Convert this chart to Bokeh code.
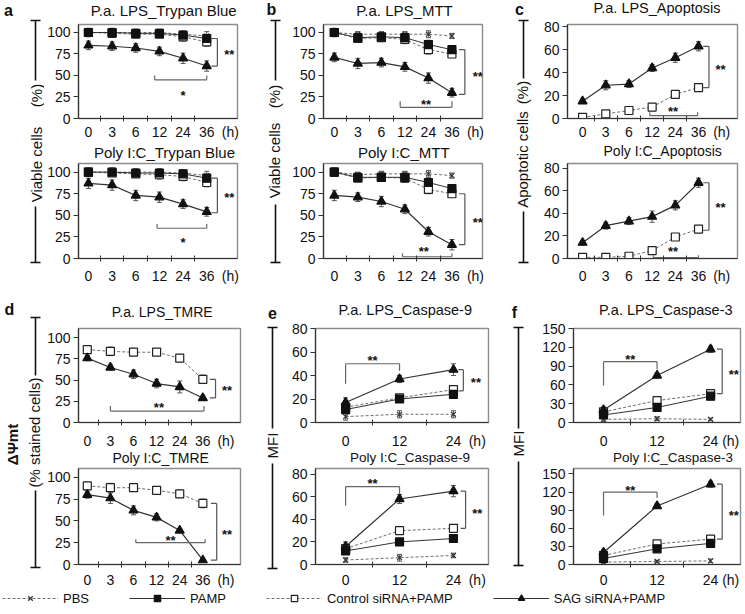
import math
from bokeh.plotting import figure
from bokeh.models import (ColumnDataSource, FixedTicker, Legend, LegendItem,
                          Range1d, TeeHead, Whisker)
from bokeh.layouts import row, column
from bokeh.core.properties import value
from bokeh.embed import file_html
from bokeh.resources import INLINE

FONT = "Liberation Sans"
INK = "#111111"

# ---------------- data ----------------
hours_long = ["0", "3", "6", "12", "24", "36"]
hours_short = ["0", "12", "24"]
hour_unit = "(h)"
names = ["PBS", "PAMP", "Control siRNA+PAMP", "SAG siRNA+PAMP"]

# a  Trypan Blue (viable cells %)
a1_pbs = [100, 100, 100, 100, 98, 96];  a1_pbs_err = [5, 5, 4, 4, 4, 5]
a1_pamp = [100, 100, 99, 99, 97, 93];   a1_pamp_err = [3, 3, 3, 3, 4, 4]
a1_ctrl = [100, 99, 98, 98, 95, 89];    a1_ctrl_err = [4, 4, 4, 4, 5, 5]
a1_sag = [85, 84, 82, 78, 70, 61];      a1_sag_err = [5, 5, 5, 5, 6, 6]
a2_pbs = [100, 100, 100, 100, 99, 96];  a2_pbs_err = [5, 5, 4, 4, 4, 5]
a2_pamp = [100, 100, 99, 99, 98, 93];   a2_pamp_err = [3, 3, 3, 3, 4, 4]
a2_ctrl = [100, 99, 98, 97, 95, 88];    a2_ctrl_err = [4, 4, 4, 5, 5, 5]
a2_sag = [87, 85, 73, 71, 63, 54];      a2_sag_err = [6, 6, 6, 6, 5, 5]
# b  MTT
b1_pbs = [100, 98, 98, 98, 98, 96];     b1_pbs_err = [3, 3, 3, 3, 4, 3]
b1_pamp = [100, 94, 95, 94, 86, 80];    b1_pamp_err = [5, 4, 4, 4, 5, 4]
b1_ctrl = [100, 93, 94, 92, 80, 75];    b1_ctrl_err = [4, 4, 4, 5, 5, 4]
b1_sag = [71, 64, 65, 60, 47, 30];      b1_sag_err = [5, 6, 5, 5, 6, 5]
b2_pbs = [100, 97, 98, 98, 98, 96];     b2_pbs_err = [3, 3, 3, 3, 4, 3]
b2_pamp = [100, 94, 94, 94, 88, 81];    b2_pamp_err = [5, 4, 4, 4, 5, 4]
b2_ctrl = [100, 93, 94, 93, 80, 75];    b2_ctrl_err = [4, 4, 4, 5, 5, 4]
b2_sag = [73, 71, 66, 57, 31, 16];      b2_sag_err = [6, 5, 6, 5, 5, 6]
# c  Apoptosis
c1_ctrl = [1, 4, 7, 10, 21, 27];        c1_ctrl_err = [1, 1, 1, 3, 2, 3]
c1_sag = [15, 29, 30, 44, 53, 63];      c1_sag_err = [2, 4, 3, 3, 4, 4]
c2_ctrl = [1, 1, 2, 7, 19, 26];         c2_ctrl_err = [1, 1, 1, 2, 2, 2]
c2_sag = [14, 29, 33, 37, 47, 67];      c2_sag_err = [2, 3, 3, 5, 4, 4]
# d  TMRE
d1_ctrl = [86, 84, 83, 83, 76, 51];     d1_ctrl_err = [4, 5, 4, 4, 4, 5]
d1_sag = [76, 65, 57, 46, 42, 29];      d1_sag_err = [3, 3, 5, 5, 7, 3]
d2_ctrl = [90, 88, 88, 85, 81, 70];     d2_ctrl_err = [4, 5, 3, 4, 4, 5]
d2_sag = [80, 76, 62, 54, 39, 5];       d2_sag_err = [4, 6, 5, 4, 2, 1]
# e  Caspase-9 (MFI)
e1_pbs = [5, 7, 7];     e1_pbs_err = [3, 3, 3]
e1_pamp = [11, 20, 24]; e1_pamp_err = [3, 2, 3]
e1_ctrl = [13, 21, 28]; e1_ctrl_err = [3, 2, 3]
e1_sag = [17, 37, 45];  e1_sag_err = [4, 3, 5]
e2_pbs = [4, 6, 8];     e2_pbs_err = [2, 3, 2]
e2_pamp = [12, 20, 23]; e2_pamp_err = [3, 2, 2]
e2_ctrl = [14, 30, 32]; e2_ctrl_err = [3, 3, 3]
e2_sag = [16, 58, 65];  e2_sag_err = [4, 4, 5]
# f  Caspase-3 (MFI)
f1_pbs = [5, 6, 5];      f1_pbs_err = [3, 3, 2]
f1_pamp = [12, 24, 42];  f1_pamp_err = [5, 4, 4]
f1_ctrl = [17, 35, 46];  f1_ctrl_err = [5, 4, 4]
f1_sag = [20, 75, 117];  f1_sag_err = [5, 4, 5]
f2_pbs = [4, 5, 6];      f2_pbs_err = [3, 2, 3]
f2_pamp = [10, 26, 35];  f2_pamp_err = [5, 4, 4]
f2_ctrl = [15, 34, 42];  f2_ctrl_err = [5, 4, 4]
f2_sag = [20, 97, 133];  f2_sag_err = [5, 4, 5]

yt_pct = [0, 25, 50, 75, 100]
yt_80 = [0, 20, 40, 60, 80]
yt_150 = [0, 30, 60, 90, 120, 150]

# ---------------- styles ----------------
STYLE = {
    "PBS": dict(marker="x", size=7, mline="#333333", mfill=None, line="#6e6e6e", dash="3 2", lw=1.0),
    "PAMP": dict(marker="square", size=8, mline="#111111", mfill="#111111", line="#333333", dash="solid", lw=1.0),
    "Control siRNA+PAMP": dict(marker="square", size=8, mline="#222222", mfill="white", line="#6e6e6e", dash="3 2", lw=1.0),
    "SAG siRNA+PAMP": dict(marker="triangle", size=9, mline="#111111", mfill="#111111", line="#333333", dash="solid", lw=1.2),
}


def blank(w, h):
    f = figure(width=w, height=h, x_range=Range1d(0, w), y_range=Range1d(h, 0),
               x_axis_type=None, y_axis_type=None, output_backend="svg",
               toolbar_location=None, min_border=0)
    f.outline_line_color = None
    return f


def make_panel(width, th, tcy, height, L, R, T, B, xr, ytop, yticks, xkind, title,
               title_fs, title_dx, x_standoff, series, unit_pos=None):
    frame_w = width - L - R
    frame_h = height - T - B
    ppu = frame_h / ytop
    tf = blank(width, th)
    tf.text(x=[L + frame_w / 2.0 + title_dx], y=[tcy], text=[title], text_font=value(FONT),
            text_font_size=f"{title_fs}px", text_align="center", text_baseline="middle",
            text_color=INK)
    p = figure(width=width, height=height, x_range=Range1d(*xr), y_range=Range1d(0, ytop),
               output_backend="svg", toolbar_location=None,
               min_border_left=L, min_border_right=R, min_border_top=T, min_border_bottom=B)
    p.grid.visible = False
    p.outline_line_color = "#8c8c8c"
    p.outline_line_width = 1.4
    if xkind == "long":
        xs = list(range(len(hours_long)))
        labels = hours_long + [hour_unit]
        ticks = xs + [len(hours_long)]
    else:
        xs = [int(h) for h in hours_short]
        labels = hours_short + [hour_unit]
        ticks = xs + [unit_pos]
    minor = [(xs[i] + xs[i + 1]) / 2 for i in range(len(xs) - 1)]
    xa = p.xaxis[0]
    ya = p.yaxis[0]
    xa.ticker = FixedTicker(ticks=ticks, minor_ticks=minor)
    xa.major_label_overrides = {t: l for t, l in zip(ticks, labels)}
    xa.major_tick_in = 0
    xa.major_tick_out = 0
    xa.minor_tick_in = 3
    xa.minor_tick_out = 3
    xa.minor_tick_line_color = "#333333"
    xa.major_label_standoff = x_standoff
    ya.ticker = FixedTicker(ticks=yticks)
    ya.major_tick_in = 0
    ya.major_tick_out = 5
    ya.minor_tick_in = 0
    ya.minor_tick_out = 0
    ya.major_label_standoff = 3
    for ax in (xa, ya):
        ax.axis_line_color = "#333333"
        ax.axis_line_width = 1.2
        ax.major_tick_line_color = "#333333"
        ax.major_label_text_font = FONT
        ax.major_label_text_font_size = "14px"
        ax.major_label_text_color = INK
    for name, ys, es in series:
        st = STYLE[name]
        p.line(xs, ys, line_color=st["line"], line_width=st["lw"], line_dash=st["dash"])
    for name, ys, es in series:
        src = ColumnDataSource(dict(x=xs, lo=[y - e for y, e in zip(ys, es)],
                                    hi=[y + e for y, e in zip(ys, es)]))
        p.add_layout(Whisker(source=src, base="x", lower="lo", upper="hi", dimension="height",
                             line_color="#555555", line_width=1,
                             upper_head=TeeHead(size=5, line_color="#555555", line_width=1),
                             lower_head=TeeHead(size=5, line_color="#555555", line_width=1)))
    for name, ys, es in series:
        st = STYLE[name]
        p.scatter(xs, ys, marker=st["marker"], size=st["size"], line_color=st["mline"],
                  fill_color=st["mfill"], line_width=1.2)
    return tf, p, ppu


def star(p, ppu, x, y, txt):
    p.text(x=[x], y=[y - 2.5 / ppu], text=[txt], text_font=value(FONT), text_font_size="13px",
           text_font_style="bold", text_align="center", text_baseline="middle", text_color=INK)


def right_bracket(p, ppu, xb, xt, y1, y2, sx, sy):
    p.segment(x0=[xt, xb, xt], y0=[y1, y1, y2], x1=[xb, xb, xb], y1=[y1, y2, y2],
              line_color="#555555", line_width=1.2)
    star(p, ppu, sx, sy, "**")


def low_bracket(p, ppu, x0, x1, y, up, sx, sy, txt):
    p.segment(x0=[x0, x0, x1], y0=[y, y, y], x1=[x1, x0, x1], y1=[y, y + up, y + up],
              line_color="#666666", line_width=1.2)
    star(p, ppu, sx, sy, txt)


def top_bracket(p, ppu, x0, x1, y, yl, yr, sx, sy):
    p.segment(x0=[x0, x0, x1], y0=[y, y, y], x1=[x1, x0, x1], y1=[y, yl, yr],
              line_color="#666666", line_width=1.2)
    star(p, ppu, sx, sy, "**")


N = names

# ----- a -----
ta1, a1, u = make_panel(209, 20, 9.5, 124, 33, 16, 4, 26, (-0.42, 6.30), 109.3, yt_pct, "long",
                        "P.a. LPS_Trypan Blue", 15, -1, 2,
                        [(N[0], a1_pbs, a1_pbs_err), (N[2], a1_ctrl, a1_ctrl_err),
                         (N[1], a1_pamp, a1_pamp_err), (N[3], a1_sag, a1_sag_err)])
right_bracket(a1, u, 5.45, 5.2, 93, 61, 5.95, 77)
low_bracket(a1, u, 2.8, 5.0, 45, 5, 4.0, 30, "*")
ta2, a2, u = make_panel(209, 18, 8.2, 128, 33, 16, 1, 32, (-0.42, 6.30), 110, yt_pct, "long",
                        "Poly I:C_Trypan Blue", 15, 0, 6,
                        [(N[0], a2_pbs, a2_pbs_err), (N[2], a2_ctrl, a2_ctrl_err),
                         (N[1], a2_pamp, a2_pamp_err), (N[3], a2_sag, a2_sag_err)])
right_bracket(a2, u, 5.45, 5.2, 93, 53, 5.95, 73)
low_bracket(a2, u, 2.9, 5.0, 35, 5, 4.0, 22, "*")
# ----- b -----
tb1, b1, u = make_panel(211, 20, 9.5, 124, 32, 18, 4, 26, (-0.46, 6.30), 109.3, yt_pct, "long",
                        "P.a. LPS_MTT", 15, -5, 2,
                        [(N[0], b1_pbs, b1_pbs_err), (N[2], b1_ctrl, b1_ctrl_err),
                         (N[1], b1_pamp, b1_pamp_err), (N[3], b1_sag, b1_sag_err)])
right_bracket(b1, u, 5.55, 5.3, 80, 28, 6.1, 52)
low_bracket(b1, u, 2.8, 5.0, 13, 7, 3.9, 19, "**")
tb2, b2, u = make_panel(211, 18, 8.2, 128, 32, 18, 1, 32, (-0.46, 6.30), 110, yt_pct, "long",
                        "Poly I:C_MTT", 15, -6, 6,
                        [(N[0], b2_pbs, b2_pbs_err), (N[2], b2_ctrl, b2_ctrl_err),
                         (N[1], b2_pamp, b2_pamp_err), (N[3], b2_sag, b2_sag_err)])
right_bracket(b2, u, 5.55, 5.3, 75, 16, 6.1, 45)
low_bracket(b2, u, 2.9, 5.0, 2, 4, 3.8, 11, "**")
# ----- c -----
tc1, c1, u = make_panel(209, 17, 7.6, 127, 31, 8, 7, 26, (-0.65, 6.68), 82, yt_80, "long",
                        "P.a. LPS_Apoptosis", 14.5, -6, 2,
                        [(N[2], c1_ctrl, c1_ctrl_err), (N[3], c1_sag, c1_sag_err)])
right_bracket(c1, u, 5.45, 5.2, 63, 27, 5.95, 45)
low_bracket(c1, u, 2.9, 4.96, 2.5, 3, 3.9, 8, "**")
tc2, c2, u = make_panel(209, 15, 6, 131, 31, 8, 4, 32, (-0.65, 6.68), 84, yt_80, "long",
                        "Poly I:C_Apoptosis", 14, 1, 6,
                        [(N[2], c2_ctrl, c2_ctrl_err), (N[3], c2_sag, c2_sag_err)])
right_bracket(c2, u, 5.45, 5.2, 67, 25, 5.95, 47)
low_bracket(c2, u, 3.05, 5.0, 0.8, 2, 3.9, 8.5, "**")
# ----- d -----
td1, d1, u = make_panel(209, 34, 21, 127, 32, 13, 4, 24, (-0.38, 6.63), 111, yt_pct, "long",
                        "P.a. LPS_TMRE", 14, -6, 7,
                        [(N[2], d1_ctrl, d1_ctrl_err), (N[3], d1_sag, d1_sag_err)])
right_bracket(d1, u, 5.55, 5.3, 51, 29, 6.05, 40)
low_bracket(d1, u, 2.1 - 1.1, 5.05, 13.5, 6, 3.1, 20, "**")
td2, d2, u = make_panel(209, 15, 6, 124, 32, 13, 2, 22, (-0.38, 6.63), 110, yt_pct, "long",
                        "Poly I:C_TMRE", 14, -8, 4,
                        [(N[2], d2_ctrl, d2_ctrl_err), (N[3], d2_sag, d2_sag_err)])
right_bracket(d2, u, 5.6, 5.35, 70, 5, 6.05, 37)
low_bracket(d2, u, 2.1, 5.1, 25, 4, 3.6, 30, "**")
# ----- e -----
te1, e1, u = make_panel(217, 29, 19, 132, 32, 12, 9, 24, (-6.7, 31.8), 80, yt_80, "short",
                        "P.a. LPS_Caspase-9", 14.5, -6, 7,
                        [(N[0], e1_pbs, e1_pbs_err), (N[2], e1_ctrl, e1_ctrl_err),
                         (N[1], e1_pamp, e1_pamp_err), (N[3], e1_sag, e1_sag_err)], unit_pos=29.3)
right_bracket(e1, u, 26.2, 25.1, 45, 27, 29.0, 36)
top_bracket(e1, u, 0, 12, 50, 33, 44, 6, 55)
te2, e2, u = make_panel(217, 14, 5.5, 125, 32, 12, 3, 23, (-6.7, 31.8), 85, yt_80, "short",
                        "Poly I:C_Caspase-9", 13.5, 0, 4,
                        [(N[0], e2_pbs, e2_pbs_err), (N[2], e2_ctrl, e2_ctrl_err),
                         (N[1], e2_pamp, e2_pamp_err), (N[3], e2_sag, e2_sag_err)], unit_pos=29.3)
right_bracket(e2, u, 26.7, 25.6, 65, 32, 29.3, 47)
top_bracket(e2, u, 0, 12, 69, 52, 63, 6, 74)
# ----- f -----
tf1, f1, u = make_panel(209, 29, 19, 132, 37, 5, 9, 24, (-6.73, 30.7), 150, yt_150, "short",
                        "P.a. LPS_Caspase-3", 14.5, -5, 7,
                        [(N[0], f1_pbs, f1_pbs_err), (N[2], f1_ctrl, f1_ctrl_err),
                         (N[1], f1_pamp, f1_pamp_err), (N[3], f1_sag, f1_sag_err)], unit_pos=28.5)
right_bracket(f1, u, 26.6, 25.4, 117, 46, 29.2, 80)
top_bracket(f1, u, 0, 12, 97, 59, 85, 6, 105)
tf2, f2, u = make_panel(209, 14, 5.5, 125, 37, 5, 3, 23, (-6.73, 30.7), 159, yt_150, "short",
                        "Poly I:C_Caspase-3", 13.5, 4, 4,
                        [(N[0], f2_pbs, f2_pbs_err), (N[2], f2_ctrl, f2_ctrl_err),
                         (N[1], f2_pamp, f2_pamp_err), (N[3], f2_sag, f2_sag_err)], unit_pos=28.5)
right_bracket(f2, u, 26.6, 25.4, 133, 42, 29.2, 85)
top_bracket(f2, u, 0, 12, 120, 81, 110, 6, 126)


# ---------------- side labels ----------------
def side(w, h, letter, lx, ly, x, ytop_, ya, yb, ybot, texts):
    p = blank(w, h)
    p.segment(x0=[x - 5, x, x, x - 5], y0=[ytop_, ytop_, yb, ybot],
              x1=[x + 5, x, x, x + 5], y1=[ytop_, ya, ybot, ybot],
              line_color="#111111", line_width=1.6)
    p.text(x=[lx], y=[ly], text=[letter], text_font=value(FONT), text_font_size="16px",
           text_font_style="bold", text_align="center", text_baseline="middle", text_color=INK)
    for t, tx, ty, fs, style in texts:
        p.text(x=[tx], y=[ty], text=[t], angle=math.pi / 2, text_font=value(FONT),
               text_font_size=fs, text_font_style=style, text_align="center",
               text_baseline="middle", text_color=INK)
    return p


sA = side(44, 290, "a", 8, 10, 35, 20, 80, 206, 262,
          [("(%)", 36, 95, "15px", "normal"), ("Viable cells", 36, 164, "15px", "normal")])
sB = side(36, 290, "b", 18, 9, 22, 20, 80, 204, 262,
          [("(%)", 21, 96, "15px", "normal"), ("Viable cells", 21, 160, "15px", "normal")])
sC = side(36, 290, "c", 19, 9, 23, 20, 78, 211, 262,
          [("(%)", 22, 92, "15px", "normal"), ("Apoptotic cells", 22, 159, "15px", "normal")])
sD = side(44, 300, "d", 9, 19, 35, 27, 85, 200, 277,
          [("(% stained cells)", 34, 142, "15px", "normal"), ("ΔΨmt", 12, 154, "15px", "bold")])
sE = side(30, 300, "e", 19, 22, 19, 37, 138, 173, 278,
          [("MFI", 19, 155, "15px", "normal")])
sF = side(36, 300, "f", 14, 22, 18, 37, 138, 171, 275,
          [("MFI", 18, 153, "15px", "normal")])

# ---------------- legend ----------------
lf = blank(745, 16)
items = []
for name in names:
    st = STYLE[name]
    rl = lf.line([float("nan")], [float("nan")], line_color=st["line"], line_width=st["lw"],
                 line_dash=st["dash"])
    rs = lf.scatter([float("nan")], [float("nan")], marker=st["marker"], size=st["size"],
                    line_color=st["mline"], fill_color=st["mfill"], line_width=1.2)
    items.append(LegendItem(label=name, renderers=[rl, rs]))
legend = Legend(items=items, orientation="horizontal", location=(2, 0), glyph_width=56,
                glyph_height=16, label_height=16, label_standoff=5, spacing=40, padding=0,
                margin=0, border_line_color=None, background_fill_alpha=0,
                label_text_font=FONT, label_text_font_size="13px", label_text_color=INK)
lf.add_layout(legend)

top = row(row(sA, column(ta1, a1, ta2, a2)), row(sB, column(tb1, b1, tb2, b2)),
          row(sC, column(tc1, c1, tc2, c2)))
bottom = row(row(sD, column(td1, d1, td2, d2)), row(sE, column(te1, e1, te2, e2)),
             row(sF, column(tf1, f1, tf2, f2)))
page = column(top, bottom, lf)

open("out.html", "w").write(file_html(page, INLINE))
